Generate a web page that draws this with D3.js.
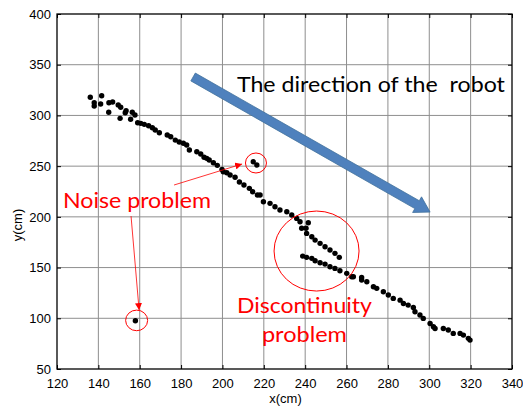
<!DOCTYPE html>
<html>
<head>
<meta charset="utf-8">
<script src="https://cdn.jsdelivr.net/npm/d3@7"></script>
<style>
  body { margin: 0; background: #fff; }
  svg { display: block; }
</style>
</head>
<body>
<svg id="chart"></svg>
<script>
// Robot track points (x, y in cm)
const trackX = [136.1,138.0,138.0,141.6,141.1,145.1,146.9,145.0,149.6,150.8,150.5,153.4,153.0,156.4,155.6,157.7,159.0,160.5,162.2,164.3,166.1,167.5,169.5,173.3,175.0,177.2,179.1,181.1,182.7,184.0,187.6,189.5,191.1,192.4,193.6,195.6,197.5,199.8,200.4,202.1,203.7,206.1,208.2,210.4,213.0,214.6,216.9,218.2,219.8,223.0,225.4,227.8,231.1,233.5,235.9,237.5,241.5,238.3,240.4,240.7,243.2,244.8,247.2,249.6,252.0,254.4,256.5];
const trackY = [317.9,312.5,309.3,319.4,311.2,312.5,313.2,303.1,310.3,308.0,297.1,304.6,302.7,303.1,296.2,300.4,292.8,292.2,291.2,289.8,287.9,285.6,282.9,280.7,279.0,275.7,273.8,272.5,270.8,265.9,264.2,261.9,258.7,257.7,256.0,253.4,250.8,246.8,244.5,243.5,241.2,239.0,234.3,231.4,228.1,224.8,221.5,221.5,214.9,213.3,210.0,206.7,205.0,201.8,198.5,195.2,194.2,188.7,188.7,183.7,180.4,177.1,173.9,170.5,167.3,164.0,160.1];
// lower branch after the discontinuity
const branchX = [238.8,240.7,243.2,244.8,247.2,249.6,252.0,254.4,256.8,260.1,262.5,263.3,267.3,267.3,269.8,273.0,274.6,277.8,280.2,282.6,285.9,287.5,289.8,292.3,293.1,295.5,297.1,300.4,302.0,302.8,306.8,309.2,311.6,314.9,316.5,318.9,319.7];
const branchY = [161.3,160.1,159.1,156.7,154.7,153.4,150.8,149.2,146.8,144.3,140.9,140.9,140.3,137.7,136.0,131.1,129.5,126.1,122.9,119.6,117.9,114.6,113.0,110.7,106.4,103.2,99.9,94.9,91.6,90.0,90.0,88.4,85.1,85.1,83.4,80.2,78.5];
// noisy readings
const noiseX = [214.9, 216.6, 157.9];
const noiseY = [254.3, 251.1, 97.5];

const xTicks = [120,140,160,180,200,220,240,260,280,300,320,340];
const yTicks = [50,100,150,200,250,300,350,400];

const width = 523, height = 407;
const marginTop = 14, marginRight = 11, marginBottom = 38, marginLeft = 57;

const points = [];
trackX.forEach((d, i) => points.push([d, trackY[i]]));
branchX.forEach((d, i) => points.push([d, branchY[i]]));
noiseX.forEach((d, i) => points.push([d, noiseY[i]]));

const x = d3.scaleLinear().domain([120, 340]).range([marginLeft, width - marginRight]);
const y = d3.scaleLinear().domain([50, 400]).range([height - marginBottom, marginTop]);

const svg = d3.select("#chart")
    .attr("width", width)
    .attr("height", height)
    .attr("viewBox", [0, 0, width, height])
    .style("font-family", "Arial, 'Liberation Sans', sans-serif");

// grid
svg.append("g")
    .attr("stroke", "#8e8e8e")
    .attr("stroke-width", 1)
  .selectAll("line.gx")
  .data(xTicks.slice(1, -1))
  .join("line")
    .attr("x1", d => x(d)).attr("x2", d => x(d))
    .attr("y1", y(50)).attr("y2", y(400));

svg.append("g")
    .attr("stroke", "#8e8e8e")
    .attr("stroke-width", 1)
  .selectAll("line.gy")
  .data(yTicks.slice(1, -1))
  .join("line")
    .attr("x1", x(120)).attr("x2", x(340))
    .attr("y1", d => y(d)).attr("y2", d => y(d));

// axes with inward ticks
const tickLen = 4;
svg.append("g")
    .attr("transform", `translate(0,${y(50)})`)
    .call(d3.axisBottom(x).tickValues(xTicks).tickSize(-tickLen).tickPadding(10).tickSizeOuter(0))
    .call(g => g.selectAll("text").attr("font-size", 13).attr("fill", "#000").attr("font-family", null))
    .call(g => g.select(".domain").remove());

svg.append("g")
    .attr("transform", `translate(${x(120)},0)`)
    .call(d3.axisLeft(y).tickValues(yTicks).tickSize(-tickLen).tickPadding(6).tickSizeOuter(0))
    .call(g => g.selectAll("text").attr("font-size", 13).attr("fill", "#000").attr("font-family", null))
    .call(g => g.select(".domain").remove());

svg.append("g")
    .attr("transform", `translate(0,${y(400)})`)
    .call(d3.axisTop(x).tickValues(xTicks).tickSize(-tickLen).tickFormat("").tickSizeOuter(0))
    .call(g => g.select(".domain").remove());

svg.append("g")
    .attr("transform", `translate(${x(340)},0)`)
    .call(d3.axisRight(y).tickValues(yTicks).tickSize(-tickLen).tickFormat("").tickSizeOuter(0))
    .call(g => g.select(".domain").remove());

// plot frame
svg.append("rect")
    .attr("x", x(120)).attr("y", y(400))
    .attr("width", x(340) - x(120)).attr("height", y(50) - y(400))
    .attr("fill", "none")
    .attr("stroke", "#000")
    .attr("stroke-width", 1.3);

// axis labels
svg.append("text")
    .attr("x", (x(120) + x(340)) / 2 + 1)
    .attr("y", 403)
    .attr("text-anchor", "middle")
    .attr("font-size", 13)
    .text("x(cm)");

svg.append("text")
    .attr("transform", `translate(22,${y(192)}) rotate(-90)`)
    .attr("text-anchor", "middle")
    .attr("font-size", 13)
    .text("y(cm)");

// points
svg.append("g")
    .attr("fill", "#000")
  .selectAll("circle")
  .data(points)
  .join("circle")
    .attr("cx", d => x(d[0]))
    .attr("cy", d => y(d[1]))
    .attr("r", 2.7);

// blue direction arrow
function arrowPolygon(x0, y0, x1, y1, shaftW, headW, headL) {
  const dx = x1 - x0, dy = y1 - y0, L = Math.hypot(dx, dy);
  const ux = dx / L, uy = dy / L, nx = -uy, ny = ux;
  const bx = x1 - ux * headL, by = y1 - uy * headL;
  return [
    [x0 + nx * shaftW, y0 + ny * shaftW],
    [bx + nx * shaftW, by + ny * shaftW],
    [bx + nx * headW, by + ny * headW],
    [x1, y1],
    [bx - nx * headW, by - ny * headW],
    [bx - nx * shaftW, by - ny * shaftW],
    [x0 - nx * shaftW, y0 - ny * shaftW]
  ];
}

svg.append("polygon")
    .attr("points", arrowPolygon(x(185.8), y(337.9), x(300.4), y(204.7), 4.5, 9, 15).join(" "))
    .attr("fill", "#4f81bd")
    .attr("stroke", "#41719c")
    .attr("stroke-width", 0.8);

svg.append("text")
    .attr("x", x(207))
    .attr("y", y(323.1))
    .attr("font-family", "Lato, 'Open Sans', sans-serif")
    .attr("font-size", 22)
    .attr("textLength", 268)
    .attr("lengthAdjust", "spacingAndGlyphs")
    .style("white-space", "pre")
    .attr("fill", "#000")
    .text("The direction of the  robot");

// red annotations
const red = "#ff0000";
const defs = svg.append("defs");
defs.append("marker")
    .attr("id", "redHead")
    .attr("viewBox", "0 0 10 10")
    .attr("refX", 10).attr("refY", 5)
    .attr("markerWidth", 7).attr("markerHeight", 7)
    .attr("markerUnits", "userSpaceOnUse")
    .attr("orient", "auto")
  .append("path")
    .attr("d", "M0,0L10,5L0,10z")
    .attr("fill", red);

const circles = [
  { cx: 216.2, cy: 253.1, rx: 10.5, ry: 10 },
  { cx: 158.5, cy: 97.9, rx: 11, ry: 10.3 },
  { cx: 245.5, cy: 166.3, rx: 42.5, ry: 40 }
];
svg.append("g")
    .attr("fill", "none")
    .attr("stroke", red)
    .attr("stroke-width", 1)
  .selectAll("ellipse")
  .data(circles)
  .join("ellipse")
    .attr("cx", d => x(d.cx))
    .attr("cy", d => y(d.cy))
    .attr("rx", d => d.rx)
    .attr("ry", d => d.ry);

const redArrows = [
  [176.6, 231.4, 209.5, 252.1],
  [155.8, 200.8, 159.7, 108.1]
];
svg.append("g")
    .attr("stroke", red)
    .attr("stroke-width", 0.8)
  .selectAll("line")
  .data(redArrows)
  .join("line")
    .attr("x1", d => x(d[0])).attr("y1", d => y(d[1]))
    .attr("x2", d => x(d[2])).attr("y2", d => y(d[3]))
    .attr("marker-end", "url(#redHead)");

const notes = [
  { text: "Noise problem", x: 122.9, y: 208.7, len: 148 },
  { text: "Discontinuity", x: 207.0, y: 105.1, len: 135 },
  { text: "problem", x: 219.1, y: 76.5, len: 85 }
];
svg.append("g")
    .attr("fill", red)
    .attr("font-family", "Lato, 'Open Sans', sans-serif")
    .attr("font-size", 22)
  .selectAll("text")
  .data(notes)
  .join("text")
    .attr("x", d => x(d.x))
    .attr("y", d => y(d.y))
    .attr("textLength", d => d.len)
    .attr("lengthAdjust", "spacingAndGlyphs")
    .text(d => d.text);
</script>
</body>
</html>
